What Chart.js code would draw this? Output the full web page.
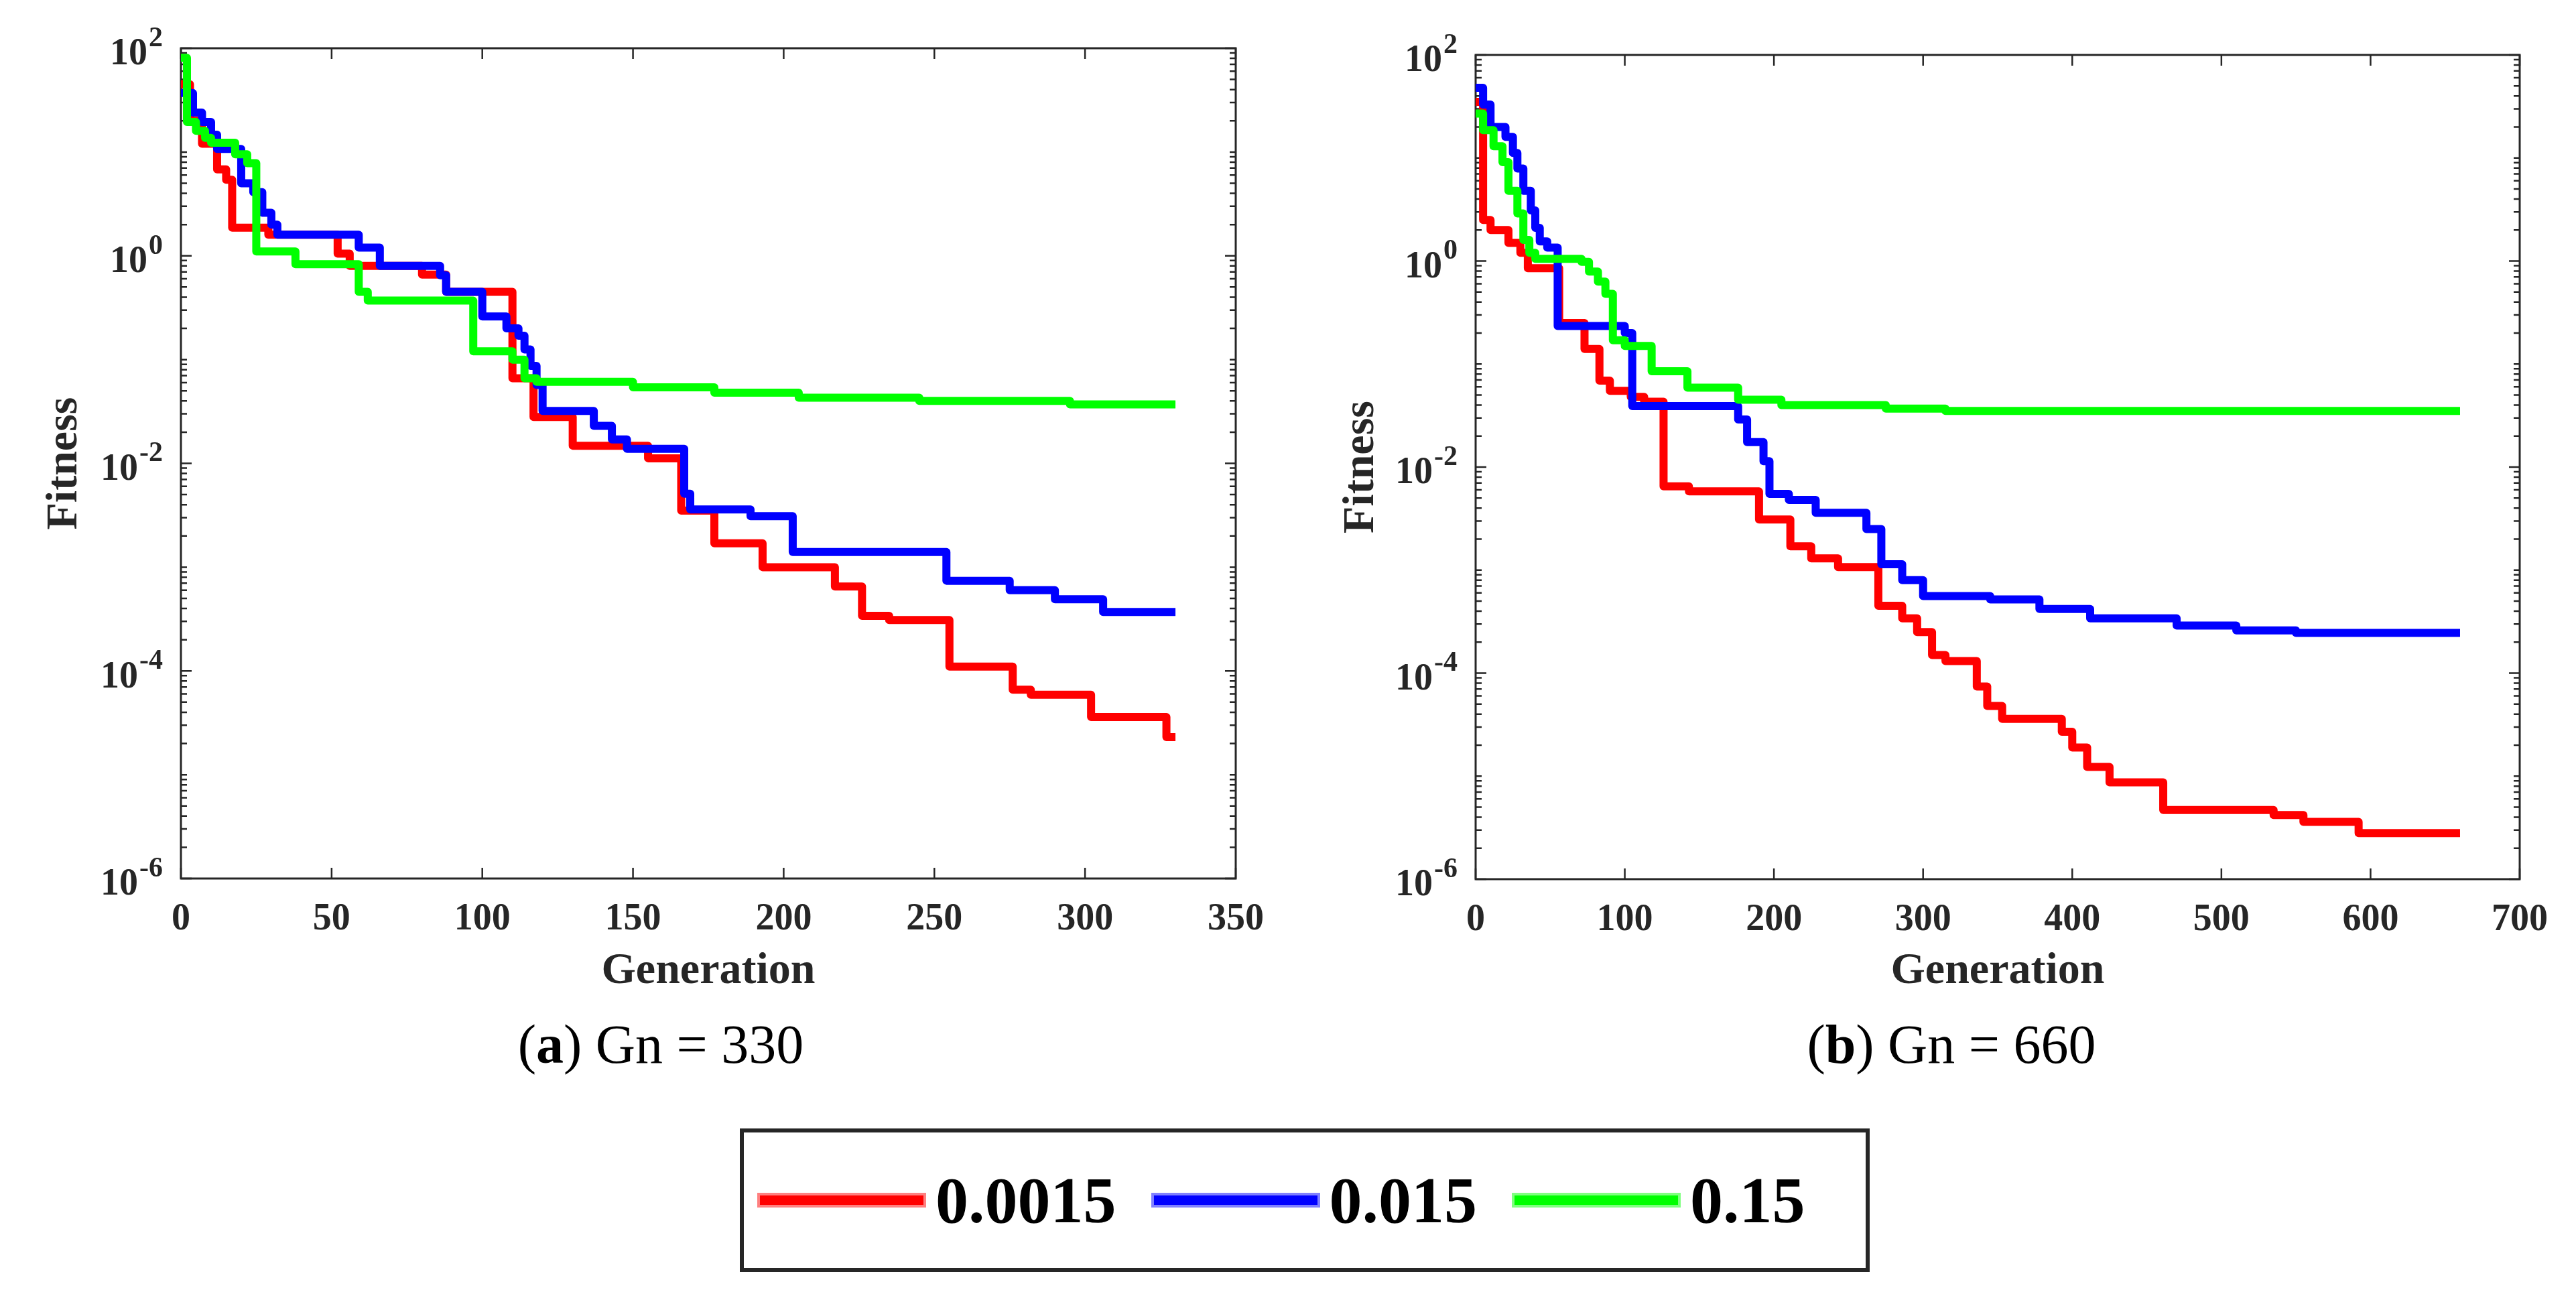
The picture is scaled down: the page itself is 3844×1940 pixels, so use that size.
<!DOCTYPE html>
<html>
<head>
<meta charset="utf-8">
<title>Fitness vs Generation</title>
<script src="https://cdn.jsdelivr.net/npm/chart.js@4.4.1/dist/chart.umd.min.js"></script>
<style>
    html, body { margin: 0; padding: 0; background: #fff; }
    body { width: 3844px; height: 1940px; position: relative; overflow: hidden; font-family: "Liberation Serif", "Times New Roman", serif; }
    canvas { position: absolute; top: 0; }
    #chartA { left: 0; }
    #chartB { left: 1922px; }
    .caption { position: absolute; top: 1518px; width: 900px; font-size: 82px; line-height: 82px; text-align: center; color: #000; }
    #captionA { left: 536px; }
    #captionB { left: 2462px; }
    #legend {
        position: absolute; left: 1104px; top: 1684px; width: 1654px; height: 202px;
        border: 6px solid #262626; display: flex; align-items: center; padding-left: 20px;
        box-sizing: content-box;
    }
    #legend .swatch { width: 252px; height: 22px; margin-right: 14px; box-shadow: 0 0 0 4px rgba(255,255,255,0.5) inset; }
    #legend .label { font-weight: bold; font-size: 98px; line-height: 98px; color: #000; margin-right: 52px; }
</style>
</head>
<body>
<canvas id="chartA" width="1922" height="1490"></canvas>
<canvas id="chartB" width="1922" height="1490"></canvas>
<div class="caption" id="captionA">(<b>a</b>) Gn = 330</div>
<div class="caption" id="captionB">(<b>b</b>) Gn = 660</div>
<div id="legend"></div>

<script>
    // Series names and colours (mutation rates)
    const seriesLabels = ['0.0015', '0.015', '0.15'];
    const seriesColors = ['#ff0000', '#0000ff', '#00ff00'];

    // Axis ticks
    const xTicksA = [0, 50, 100, 150, 200, 250, 300, 350];
    const xTicksB = [0, 100, 200, 300, 400, 500, 600, 700];
    const yTickExponents = [-6, -4, -2, 0, 2];

    // (a) Gn = 330 : generation where a new best fitness starts, and its value
    const redGenA = [0, 3, 7, 12, 15, 17, 29, 52, 56, 80, 88, 110, 117, 130, 155, 166, 177, 193, 217, 226, 235, 255, 276, 282, 302, 327, 330];
    const redFitA = [45, 20, 12, 6.8, 5.4, 1.87, 1.6, 1.05, 0.8, 0.66, 0.45, 0.066, 0.028, 0.0148, 0.0112, 0.0035, 0.0017, 0.001, 0.00065, 0.00034, 0.00031, 0.00011, 6.6e-5, 5.9e-5, 3.6e-5, 2.3e-5, 2.3e-5];

    const blueGenA = [0, 4, 7, 10, 12, 20, 24, 27, 30, 32, 59, 66, 86, 88, 100, 108, 112, 114, 116, 118, 120, 137, 143, 148, 167, 169, 189, 203, 254, 275, 290, 306, 330];
    const blueFitA = [37, 24, 19.5, 14.7, 10.7, 5, 4.1, 2.6, 2, 1.6, 1.2, 0.8, 0.65, 0.45, 0.26, 0.2, 0.17, 0.125, 0.087, 0.057, 0.032, 0.023, 0.017, 0.0138, 0.0051, 0.0036, 0.0031, 0.0014, 0.00074, 0.0006, 0.00049, 0.00037, 0.00037];

    const greenGenA = [0, 2, 5, 8, 10, 18, 22, 25, 38, 59, 62, 97, 110, 114, 118, 150, 177, 205, 245, 295, 330];
    const greenFitA = [81, 19.5, 16, 13.7, 12.3, 9.5, 7.8, 1.1, 0.83, 0.45, 0.37, 0.12, 0.1, 0.066, 0.061, 0.054, 0.048, 0.043, 0.04, 0.037, 0.037];

    // (b) Gn = 660
    const redGenB = [0, 5, 10, 22, 30, 35, 56, 73, 83, 90, 104, 113, 126, 143, 190, 211, 225, 243, 270, 286, 296, 306, 315, 336, 343, 353, 393, 400, 410, 425, 461, 535, 555, 592, 660];
    const redFitB = [35, 2.5, 2.0, 1.5, 1.2, 0.85, 0.25, 0.14, 0.069, 0.055, 0.048, 0.043, 0.0065, 0.0058, 0.0031, 0.0017, 0.0013, 0.00107, 0.00045, 0.00034, 0.00025, 0.00015, 0.000131, 7.4e-5, 4.8e-5, 3.6e-5, 2.7e-5, 1.9e-5, 1.23e-5, 8.7e-6, 4.7e-6, 4.2e-6, 3.6e-6, 2.8e-6, 2.8e-6];

    const blueGenB = [0, 5, 10, 20, 25, 28, 32, 37, 40, 43, 48, 55, 100, 105, 176, 182, 193, 197, 210, 228, 262, 272, 286, 300, 345, 378, 412, 470, 510, 550, 660];
    const blueFitB = [48, 33, 20, 16, 11.2, 7.9, 4.8, 3.1, 2.1, 1.55, 1.35, 0.234, 0.2, 0.039, 0.029, 0.0175, 0.0114, 0.0055, 0.0048, 0.0036, 0.0025, 0.00114, 0.0008, 0.00056, 0.00052, 0.00042, 0.00034, 0.00029, 0.00026, 0.000246, 0.000246];

    const greenGenB = [0, 5, 12, 18, 22, 28, 32, 36, 40, 71, 76, 82, 87, 92, 100, 118, 142, 176, 205, 275, 315, 660];
    const greenFitB = [27, 18.6, 13, 9.1, 4.8, 2.9, 1.6, 1.2, 1.05, 0.98, 0.79, 0.63, 0.48, 0.17, 0.15, 0.085, 0.059, 0.045, 0.04, 0.037, 0.035, 0.035];

    const FONT = '"Liberation Serif", "Times New Roman", serif';
    const AXIS_COLOR = '#262626';

    function toPoints(gens, fits) {
        return gens.map((g, i) => ({ x: g, y: fits[i] }));
    }

    /**
     * MATLAB style box, inward ticks and 10^n labels
     */
    const matlabAxes = {
        id: 'matlabAxes',
        beforeDatasetsDraw(chart) {
            const ctx = chart.ctx;
            const a = chart.chartArea;
            const xs = chart.scales.x;
            const ys = chart.scales.y;
            ctx.save();
            ctx.strokeStyle = AXIS_COLOR;
            ctx.lineWidth = 3;
            ctx.strokeRect(a.left, a.top, a.right - a.left, a.bottom - a.top);

            ctx.lineWidth = 2.5;
            ctx.beginPath();
            chart.options.xTickValues.forEach(v => {
                const px = xs.getPixelForValue(v);
                ctx.moveTo(px, a.bottom); ctx.lineTo(px, a.bottom - 16);
                ctx.moveTo(px, a.top); ctx.lineTo(px, a.top + 16);
            });
            for (let e = -6; e <= 2; e++) {
                for (let k = 1; k <= 9; k++) {
                    const v = k * Math.pow(10, e);
                    if (v > 100) break;
                    const py = ys.getPixelForValue(v);
                    const len = (k === 1 && e % 2 === 0) ? 16 : 9;
                    ctx.moveTo(a.left, py); ctx.lineTo(a.left + len, py);
                    ctx.moveTo(a.right, py); ctx.lineTo(a.right - len, py);
                }
            }
            ctx.stroke();
            ctx.restore();
        },
        afterDraw(chart) {
            const ctx = chart.ctx;
            const a = chart.chartArea;
            const ys = chart.scales.y;
            ctx.save();
            ctx.fillStyle = AXIS_COLOR;
            ctx.textBaseline = 'middle';
            ctx.textAlign = 'left';
            yTickExponents.forEach(e => {
                const py = ys.getPixelForValue(Math.pow(10, e));
                const expText = String(e);
                ctx.font = 'bold 42px ' + FONT;
                const wExp = ctx.measureText(expText).width;
                ctx.font = 'bold 56px ' + FONT;
                const wBase = ctx.measureText('10').width;
                const right = a.left - 27;
                ctx.fillText('10', right - wExp - 2 - wBase, py + 10);
                ctx.font = 'bold 42px ' + FONT;
                ctx.fillText(expText, right - wExp, py - 14);
            });
            ctx.restore();
        }
    };

    function renderFitnessChart(canvasId, gens, fits, xMax, xTicks, box) {
        const ctx = document.getElementById(canvasId);
        if (!ctx) return;

        const datasets = seriesLabels.map((label, i) => ({
            label: label,
            data: toPoints(gens[i], fits[i]),
            borderColor: seriesColors[i],
            backgroundColor: seriesColors[i],
            borderWidth: 12,
            borderJoinStyle: 'round',
            pointRadius: 0,
            stepped: true,
            fill: false,
            order: 3 - i
        }));

        new Chart(ctx, {
            type: 'line',
            data: { datasets: datasets },
            options: {
                responsive: false,
                animation: false,
                devicePixelRatio: 1,
                xTickValues: xTicks,
                layout: { padding: { left: box.padLeft, top: box.top, right: box.padRight, bottom: 0 } },
                plugins: {
                    legend: { display: false },
                    tooltip: { enabled: false }
                },
                scales: {
                    x: {
                        type: 'linear',
                        min: 0,
                        max: xMax,
                        afterBuildTicks: s => { s.ticks = xTicks.map(v => ({ value: v })); },
                        afterFit: s => { s.height = 1490 - box.bottom; },
                        grid: { display: false, drawTicks: false },
                        border: { display: false },
                        ticks: {
                            autoSkip: false,
                            maxRotation: 0,
                            padding: 28,
                            color: AXIS_COLOR,
                            font: { family: FONT, size: 56, weight: 'bold' }
                        },
                        title: {
                            display: true,
                            text: 'Generation',
                            color: AXIS_COLOR,
                            padding: 0,
                            font: { family: FONT, size: 66, weight: 'bold' }
                        }
                    },
                    y: {
                        type: 'logarithmic',
                        min: 1e-6,
                        max: 1e2,
                        afterBuildTicks: s => { s.ticks = yTickExponents.map(e => ({ value: Math.pow(10, e) })); },
                        afterFit: s => { s.width = box.yAxisWidth; },
                        grid: { display: false, drawTicks: false },
                        border: { display: false },
                        ticks: { callback: () => '' },
                        title: {
                            display: true,
                            text: 'Fitness',
                            color: AXIS_COLOR,
                            padding: 0,
                            font: { family: FONT, size: 66, weight: 'bold' }
                        }
                    }
                }
            },
            plugins: [matlabAxes]
        });
    }

    renderFitnessChart('chartA', [redGenA, blueGenA, greenGenA], [redFitA, blueFitA, greenFitA], 350, xTicksA,
        { padLeft: 57, yAxisWidth: 213, top: 72, bottom: 1311, padRight: 78 });
    renderFitnessChart('chartB', [redGenB, blueGenB, greenGenB], [redFitB, blueFitB, greenFitB], 700, xTicksB,
        { padLeft: 70, yAxisWidth: 210, top: 82, bottom: 1312, padRight: 84 });

    // Shared legend below both panels
    const legend = document.getElementById('legend');
    seriesLabels.forEach((label, i) => {
        const sw = document.createElement('span');
        sw.className = 'swatch';
        sw.style.background = seriesColors[i];
        const tx = document.createElement('span');
        tx.className = 'label';
        tx.textContent = label;
        legend.appendChild(sw);
        legend.appendChild(tx);
    });
</script>
</body>
</html>
